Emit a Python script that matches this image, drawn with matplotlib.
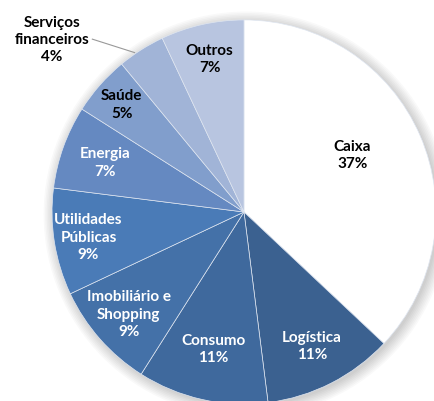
import numpy as np
import matplotlib
matplotlib.use("Agg")
import matplotlib.pyplot as plt
from matplotlib.patches import Circle

labels = ["Caixa", "Logística", "Consumo", "Imobiliário e\nShopping", "Utilidades\nPúblicas",
          "Energia", "Saúde", "Serviços\nfinanceiros", "Outros"]
values = [37, 11, 11, 9, 9, 7, 5, 4, 7]
colors = ["#ffffff", "#3b6190", "#3f699d", "#4471a8", "#4a7bb7", "#6589c1", "#819ecc", "#a1b4d7", "#b8c5e0"]
text_colors = ["black", "white", "white", "white", "white", "white", "black", "black", "black"]
label_r = [0.64, 0.78, 0.73, 0.80, 0.82, 0.77, 0.85, None, 0.82]

plt.rcParams['font.family'] = ['Lato', 'DejaVu Sans']
fig = plt.figure(figsize=(4.35, 4.02), dpi=100)
ax = fig.add_axes([0, 0, 1, 1])

# soft shadow
for k in range(8):
    ax.add_patch(Circle((0.012, -0.012), 1.0 + k * 0.008, color="#000000", alpha=0.025, lw=0, zorder=0))

wedges, _ = ax.pie(values, colors=colors, startangle=90, counterclock=False,
                   wedgeprops=dict(edgecolor="#dfe6f1", linewidth=0.5))
for w in wedges:
    w.set_zorder(2)

for i, w in enumerate(wedges):
    pct = "%d%%" % values[i]
    ang = np.deg2rad((w.theta1 + w.theta2) / 2)
    if i == 0:
        ang = np.deg2rad(28)
    if label_r[i] is None:
        ax.text(-1.0, 0.9, labels[i] + "\n" + pct, ha="center", va="center",
                fontsize=11, fontweight="bold", color=text_colors[i], linespacing=1.3, zorder=5)
        ax.plot([-0.79, -0.57], [0.9, 0.83], color="#999999", lw=0.8, zorder=5)
        continue
    r = label_r[i]
    ax.text(r * np.cos(ang), r * np.sin(ang), labels[i] + "\n" + pct, ha="center", va="center",
            fontsize=11, fontweight="bold", color=text_colors[i], linespacing=1.3, zorder=5)

ax.set_xlim(-1.271, 0.995)
ax.set_ylim(-0.984, 1.109)
ax.set_aspect("auto")
ax.axis("off")
fig.savefig("out.png", dpi=100)
